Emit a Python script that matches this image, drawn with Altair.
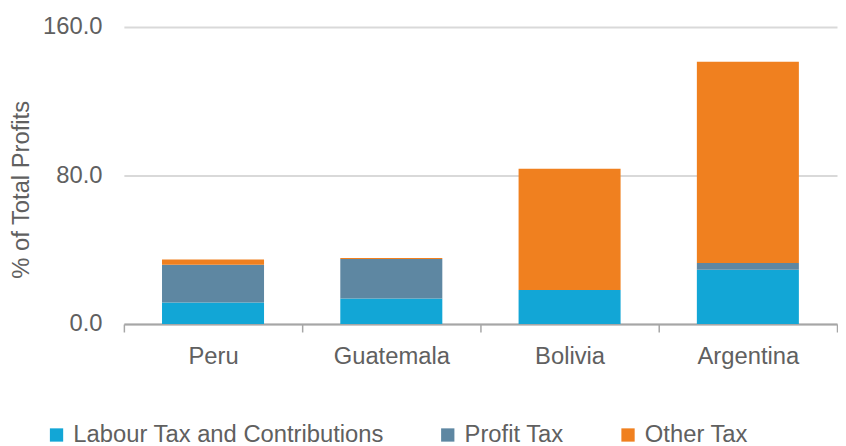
import altair as alt
import pandas as pd

countries = ["Peru", "Guatemala", "Bolivia", "Argentina"]
series = ["Labour Tax and Contributions", "Profit Tax", "Other Tax"]
labour = [11.6, 13.7, 18.3, 29.3]
profit = [20.4, 21.3, 0.0, 3.6]
other = [2.7, 0.6, 65.3, 108.4]
colors = ["#12A6D6", "#5E87A2", "#F0801F"]

rows = []
for i, c in enumerate(countries):
    for j, (s, vals) in enumerate(zip(series, [labour, profit, other])):
        rows.append({"Country": c, "Series": s, "Value": vals[i], "Order": j})
df = pd.DataFrame(rows)

font = "Liberation Sans"
grey = "#606060"

chart = alt.Chart(df).mark_bar(size=103).encode(
    x=alt.X("Country:N", sort=countries, title=None,
            scale=alt.Scale(paddingInner=0, paddingOuter=0),
            axis=alt.Axis(labelAngle=0, labelFont=font, labelFontSize=24, labelColor=grey,
                          labelPadding=13, domainColor="#a6a6a6", domainWidth=2,
                          tickColor="#a6a6a6", tickWidth=1.5, tickSize=8, tickBand="extent",
                          grid=False)),
    y=alt.Y("sum(Value):Q", title="% of Total Profits",
            scale=alt.Scale(domain=[0, 160], nice=False),
            axis=alt.Axis(values=[0, 80, 160], format=".1f", labelFont=font, labelFontSize=24,
                          labelColor=grey, labelPadding=22, ticks=False, domain=False,
                          gridColor="#d9d9d9", gridWidth=2,
                          titleFont=font, titleFontSize=24, titleColor=grey, titleFontWeight="normal",
                          titleAngle=-90, titleAlign="center", titleBaseline="middle",
                          titleX=-103, titleY=164)),
    color=alt.Color("Series:N", sort=series,
                    scale=alt.Scale(domain=series, range=colors),
                    legend=alt.Legend(title=None, orient="none", legendX=-80, legendY=400,
                                      direction="horizontal", symbolType="square", symbolSize=180,
                                      symbolStrokeWidth=0, labelFont=font, labelFontSize=24,
                                      labelLimit=500,
                                      labelColor=grey, columnPadding=52, labelOffset=5)),
    order=alt.Order("Order:Q", sort="ascending"),
).properties(
    width=720, height=300,
    autosize=alt.AutoSizeParams(type="none"),
    padding={"left": 117, "top": 17, "right": 1, "bottom": 121},
).configure(background="white").configure_view(stroke=None)

chart.save("out.html", embed_options={"renderer": "svg", "actions": False})
